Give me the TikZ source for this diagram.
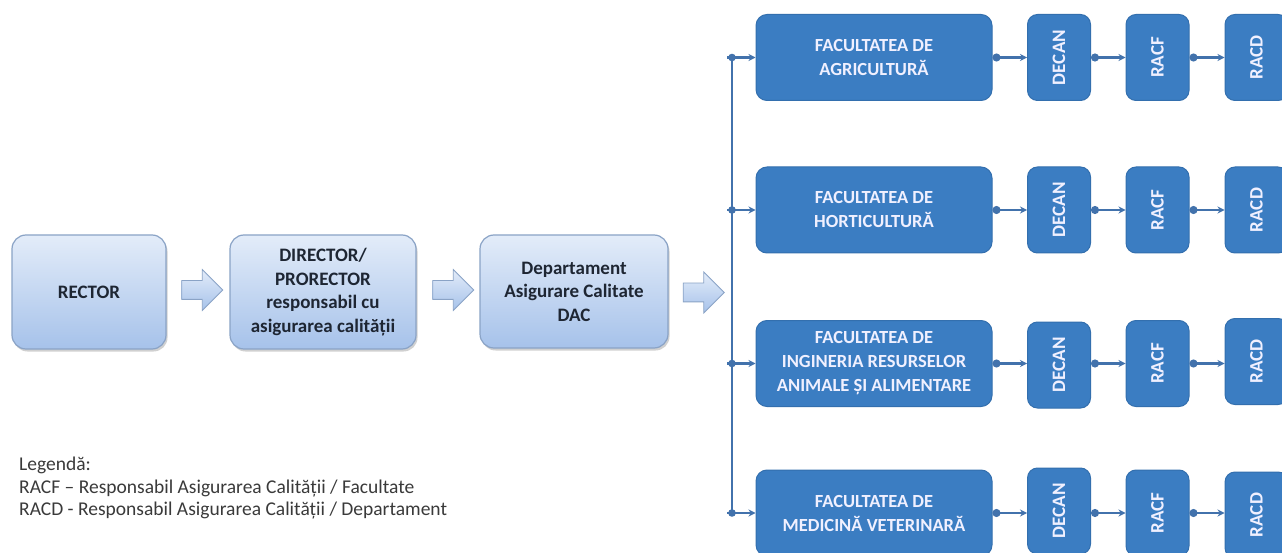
\documentclass[tikz,border=0pt]{standalone}
\usepackage{fontspec}
\setmainfont{Carlito}
\usetikzlibrary{shapes.arrows,shadows,arrows.meta}
\definecolor{ltop}{HTML}{E3ECF9}
\definecolor{lbot}{HTML}{A6C2EA}
\definecolor{lbord}{HTML}{8AA3C6}
\definecolor{ltext}{HTML}{1E2633}
\definecolor{fblue}{HTML}{3B7DC2}
\definecolor{fbord}{HTML}{336FAE}
\definecolor{cblue}{HTML}{4272AC}
\definecolor{legtext}{HTML}{3A3A3A}
\tikzset{
 lbox/.style={draw=lbord, line width=1.2pt, rounded corners=14pt, top color=ltop, bottom color=lbot,
   drop shadow={shadow xshift=1.5pt, shadow yshift=-2.5pt, opacity=0.3, fill=black!60},
   text=ltext, font=\bfseries\fontsize{19}{23.5}\selectfont, align=center, inner sep=0pt},
 barrow/.style={single arrow, draw=lbord, line width=0.8pt, top color=ltop, bottom color=lbot,
   inner sep=9pt, single arrow head extend=11pt, minimum height=41pt},
 fbox/.style={fill=fblue, draw=fbord, line width=1pt, rounded corners=11pt, text=white!94!blue,
   font=\bfseries\fontsize{18.5}{24}\selectfont, align=center, minimum width=236pt, minimum height=86pt, inner sep=0pt},
 sbox/.style={fill=fblue, draw=fbord, line width=1pt, rounded corners=10pt, text=white!94!blue,
   font=\bfseries\fontsize{19}{23}\selectfont, minimum width=63pt, minimum height=86pt, inner sep=0pt},
 conn/.style={draw=cblue, line width=2.2pt, {Circle[length=8pt]}-{Stealth[length=7pt,width=7pt]}},
 branch/.style={draw=cblue, line width=2.2pt, -{Stealth[length=7pt,width=7pt]}},
}
\begin{document}
\begin{tikzpicture}[x=1pt,y=-1pt]
\useasboundingbox (0,0) rectangle (1282,553);
\fill[white] (0,0) rectangle (1282,553);
% left chain
\node[lbox, minimum width=154pt, minimum height=114pt] (rector) at (89,292) {RECTOR};
\node[lbox, minimum width=186pt, minimum height=114pt] (director) at (323,292) {DIRECTOR/\\PRORECTOR\\responsabil cu\\asigurarea calității};
\node[lbox, minimum width=188pt, minimum height=113pt] (dac) at (574,291.5) {Departament\\Asigurare Calitate\\DAC};
\node[barrow] (a1) at (197.5,290) {};
\node[barrow] (a2) at (448.5,290) {};
\node[barrow] (a3) at (699,292.5) {};
% faculties
\node[fbox] (f1) at (874,57.5) {FACULTATEA DE\\AGRICULTURĂ};
\node[fbox] (f2) at (874,210) {FACULTATEA DE\\HORTICULTURĂ};
\node[fbox] (f3) at (874,363.5) {FACULTATEA DE\\INGINERIA RESURSELOR\\ANIMALE ȘI ALIMENTARE};
\node[fbox] (f4) at (874,513) {FACULTATEA DE\\MEDICINĂ VETERINARĂ};
% small boxes
\node[sbox] (d1) at (1059,57.5) {\rotatebox{90}{DECAN}};
\node[sbox] (r1) at (1157.5,57.5) {\rotatebox{90}{RACF}};
\node[sbox] (c1) at (1256.5,57.5) {\rotatebox{90}{RACD}};
\node[sbox] (d2) at (1059,210) {\rotatebox{90}{DECAN}};
\node[sbox] (r2) at (1157.5,210) {\rotatebox{90}{RACF}};
\node[sbox] (c2) at (1256.5,210) {\rotatebox{90}{RACD}};
\node[sbox] (d3) at (1059,365) {\rotatebox{90}{DECAN}};
\node[sbox] (r3) at (1157.5,363.5) {\rotatebox{90}{RACF}};
\node[sbox] (c3) at (1256.5,361.5) {\rotatebox{90}{RACD}};
\node[sbox] (d4) at (1059,511) {\rotatebox{90}{DECAN}};
\node[sbox] (r4) at (1157.5,513) {\rotatebox{90}{RACF}};
\node[sbox] (c4) at (1256.5,515) {\rotatebox{90}{RACD}};
% connectors in rows
\foreach \i in {1,2,3,4}{
  \draw[conn] (f\i.east) -- (d\i.west |- f\i.east);
  \draw[conn] (d\i.east |- f\i.east) -- (r\i.west |- f\i.east);
  \draw[conn] (r\i.east |- f\i.east) -- (c\i.west |- f\i.east);
}
% trunk
\coordinate (tx) at (732,0);
\coordinate (t1) at (f1.west -| tx);
\coordinate (t2) at (f2.west -| tx);
\coordinate (t3) at (f3.west -| tx);
\coordinate (t4) at (f4.west -| tx);
\draw[cblue, line width=2.2pt] (t1) -- (t4);
\foreach \i in {1,2,3,4}{
  \draw[branch] ([xshift=-5pt]t\i) -- (f\i.west);
  \fill[cblue] (t\i) circle (3.8pt);
}
% legend
\node[anchor=north west, align=left, inner sep=0pt, text=legtext, font=\fontsize{19.5}{22.5}\selectfont] (leg) at (19,457)
 {Legendă:\\RACF – Responsabil Asigurarea Calității / Facultate\\RACD - Responsabil Asigurarea Calității / Departament};
\end{tikzpicture}
\end{document}
